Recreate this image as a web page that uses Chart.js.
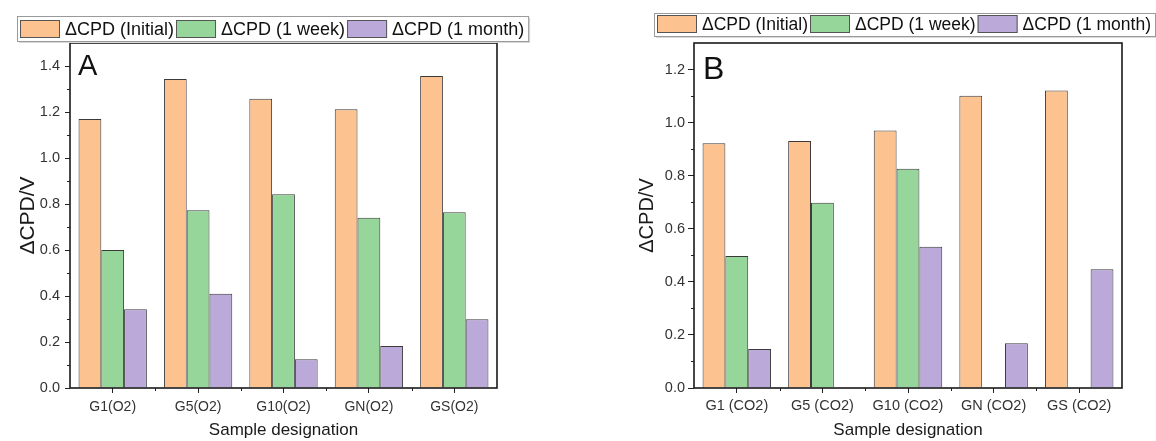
<!DOCTYPE html>
<html><head><meta charset="utf-8">
<script src="https://cdn.jsdelivr.net/npm/chart.js@4.4.1/dist/chart.umd.min.js"></script>
<style>
html,body{margin:0;padding:0;background:#fff;}
#wrap{position:relative;width:1156px;height:441px;overflow:hidden;background:#fff;}
canvas{position:absolute;left:0;top:0;}
</style></head><body>
<div id="wrap"><canvas id="cA" width="1156" height="441"></canvas><canvas id="cB" width="1156" height="441"></canvas></div>
<script>
const seriesNames = ['ΔCPD (Initial)', 'ΔCPD (1 week)', 'ΔCPD (1 month)'];

const categoriesA = ['G1(O2)', 'G5(O2)', 'G10(O2)', 'GN(O2)', 'GS(O2)'];
const initialA = [1.170, 1.343, 1.258, 1.212, 1.357];
const weekA    = [0.600, 0.773, 0.842, 0.740, 0.764];
const monthA   = [0.342, 0.410, 0.125, 0.183, 0.299];

const categoriesB = ['G1 (CO2)', 'G5 (CO2)', 'G10 (CO2)', 'GN (CO2)', 'GS (CO2)'];
const initialB = [0.922, 0.931, 0.970, 1.101, 1.121];
const weekB    = [0.497, 0.698, 0.826, null, null];
const monthB   = [0.147, null, 0.532, 0.169, 0.447];

const yTitle = 'ΔCPD/V';
const xTitle = 'Sample designation';

const FONT = "'Liberation Sans', Arial, Helvetica, sans-serif";
const COLORS = ['#FCC390', '#97D69A', '#BBA9DA'];
const EDGE = '#3a3a3a';

function makeDecor(cfg) {
  return {
    id: 'decor' + cfg.letter,
    afterDraw(chart) {
      const ctx = chart.ctx, a = chart.chartArea;
      const ys = chart.scales.y, xs = chart.scales.x;
      ctx.save();
      ctx.strokeStyle = '#222';
      ctx.lineWidth = 1;
      const tv = ys.ticks.map(t => t.value);
      ctx.beginPath();
      for (let i = 0; i < tv.length - 1; i++) {
        const py = Math.round(ys.getPixelForValue((tv[i] + tv[i + 1]) / 2)) + 0.5;
        ctx.moveTo(a.left - cfg.yMinor, py); ctx.lineTo(a.left, py);
      }
      for (let i = 0; i < xs.ticks.length - 1; i++) {
        const px = Math.round(xs.getPixelForValue(i + 0.5)) + 0.5;
        ctx.moveTo(px, a.bottom); ctx.lineTo(px, a.bottom + 3);
      }
      ctx.stroke();
      ctx.lineWidth = 1.6;
      ctx.strokeStyle = '#1a1a1a';
      ctx.strokeRect(a.left, a.top, a.right - a.left, a.bottom - a.top);
      ctx.fillStyle = '#111';
      ctx.font = cfg.letterSize + 'px ' + FONT;
      ctx.textBaseline = 'alphabetic';
      ctx.textAlign = 'left';
      ctx.fillText(cfg.letter, cfg.letterX, cfg.letterY);
      const L = cfg.legend;
      ctx.font = L.font + 'px ' + FONT;
      let x = L.x;
      const items = [];
      chart.data.datasets.forEach((ds) => {
        const tw = ctx.measureText(ds.label).width;
        items.push({ sx: x, tx: x + L.swW + L.gap1, label: ds.label, color: ds.backgroundColor });
        x += L.swW + L.gap1 + tw + L.gap2;
      });
      const boxR = x + 2;
      ctx.fillStyle = '#d9d9d9';
      ctx.fillRect(L.boxX + 2, L.boxY + 2, boxR - L.boxX, L.boxH);
      ctx.fillStyle = '#fff';
      ctx.fillRect(L.boxX, L.boxY, boxR - L.boxX, L.boxH);
      ctx.lineWidth = 1;
      ctx.strokeStyle = '#9a9a9a';
      ctx.strokeRect(L.boxX + 0.5, L.boxY + 0.5, boxR - L.boxX, L.boxH);
      items.forEach(it => {
        ctx.fillStyle = it.color;
        ctx.fillRect(it.sx, L.swY, L.swW, L.swH);
        ctx.strokeStyle = '#555';
        ctx.lineWidth = 1;
        ctx.strokeRect(it.sx + 0.5, L.swY + 0.5, L.swW - 1, L.swH - 1);
        ctx.fillStyle = '#111';
        ctx.textBaseline = 'middle';
        ctx.fillText(it.label, it.tx, L.swY + L.swH / 2 + 1);
      });
      ctx.restore();
    }
  };
}

function makeChart(id, cats, vals, geo) {
  const datasets = vals.map((v, i) => ({
    label: seriesNames[i],
    data: v,
    backgroundColor: COLORS[i],
    borderColor: EDGE,
    borderWidth: 1,
    categoryPercentage: 0.8,
    barPercentage: 1.0
  }));
  return new Chart(document.getElementById(id), {
    type: 'bar',
    data: { labels: cats, datasets },
    options: {
      responsive: false,
      animation: false,
      events: [],
      layout: { padding: { left: geo.padLeft, right: 1156 - geo.right, top: geo.top, bottom: 0 } },
      plugins: { legend: { display: false }, tooltip: { enabled: false } },
      scales: {
        x: {
          afterFit(s) { s.height = 441 - geo.bottom; },
          grid: { display: true, drawOnChartArea: false, offset: false, tickLength: 5, color: '#222', lineWidth: 1 },
          border: { display: false },
          ticks: { color: '#333', font: { family: FONT, size: geo.xTickSize }, padding: geo.xPad, maxRotation: 0, autoSkip: false },
          title: { display: true, text: xTitle, color: '#1a1a1a', font: { family: FONT, size: 17 }, padding: { top: 0, bottom: 0 } }
        },
        y: {
          min: 0, max: geo.max,
          afterFit(s) { s.width = geo.yWidth; },
          grid: { display: true, drawOnChartArea: false, tickLength: geo.yTick, color: '#222', lineWidth: 1 },
          border: { display: false },
          ticks: { stepSize: 0.2, includeBounds: false, color: '#333', font: { family: FONT, size: geo.yTickSize }, padding: geo.yPad,
                   callback: v => Number(v).toFixed(1) },
          title: { display: true, text: yTitle, color: '#1a1a1a', font: { family: FONT, size: geo.yTitleSize }, padding: { top: geo.yTitlePad, bottom: 0 } }
        }
      }
    },
    plugins: [makeDecor(geo.decor)]
  });
}

makeChart('cA', categoriesA, [initialA, weekA, monthA], {
  padLeft: 0, yWidth: 70, right: 497, top: 43, bottom: 388, max: 1.5,
  xTickSize: 14, xPad: 6, yTickSize: 14.5, yTick: 5, yPad: 5, yTitleSize: 21, yTitlePad: 16,
  decor: { letter: 'A', letterSize: 29, letterX: 78, letterY: 75, yMinor: 3,
           legend: { x: 20, boxX: 17, boxY: 16, boxH: 25, swY: 20, swW: 40, swH: 18, gap1: 5, gap2: 2, font: 18 } }
});

makeChart('cB', categoriesB, [initialB, weekB, monthB], {
  padLeft: 620, yWidth: 74, right: 1122, top: 43, bottom: 388, max: 1.3,
  xTickSize: 14.5, xPad: 4, yTickSize: 14.5, yTick: 6, yPad: 3, yTitleSize: 20, yTitlePad: 15,
  decor: { letter: 'B', letterSize: 32, letterX: 703, letterY: 79, yMinor: 3,
           legend: { x: 657, boxX: 654, boxY: 13, boxH: 23, swY: 15, swW: 40, swH: 18, gap1: 5, gap2: 2, font: 17.5 } }
});
</script>
</body></html>
